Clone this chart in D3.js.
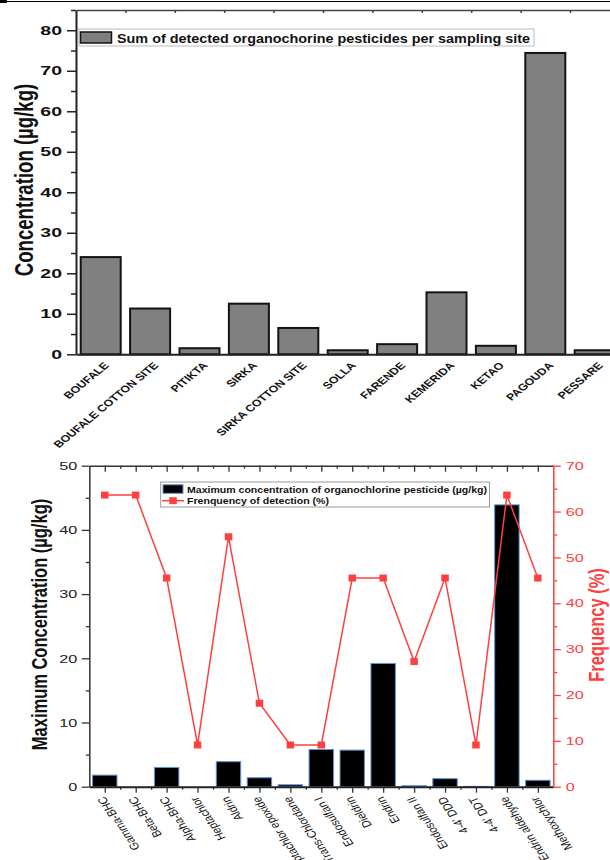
<!DOCTYPE html>
<html>
<head>
<meta charset="utf-8">
<script src="https://cdn.jsdelivr.net/npm/d3@7"></script>
<style>
  body { margin: 0; background: #fff; }
  svg { display: block; font-family: "Liberation Sans", Arial, sans-serif; }
</style>
</head>
<body>
<svg id="chart" width="610" height="860"></svg>
<script>
// top panel: sum per site
const sites = ["BOUFALE", "BOUFALE COTTON SITE", "PITIKTA", "SIRKA", "SIRKA COTTON SITE",
  "SOLLA", "FARENDE", "KEMERIDA", "KETAO", "PAGOUDA", "PESSARE"];
const siteSum = [24.0, 11.3, 1.5, 12.5, 6.5, 1.0, 2.5, 15.3, 2.1, 74.4, 1.0];
const sumTicks = [0, 10, 20, 30, 40, 50, 60, 70, 80];

// bottom panel: max concentration + frequency
const pesticides = ["Gamma-BHC", "Beta-BHC", "Alpha-BHC", "Heptachlor", "Aldrin",
  "Heptachlor epoxide", "Trans-Chlordane", "Endosulfan I", "Dieldrin", "Endrin",
  "Endosulfan II", "4-4' DDD", "4-4' DDT", "Endrin aldehyde", "Methoxychlor"];
const maxConc = [1.8, 0, 3.0, 0, 3.9, 1.4, 0.3, 5.8, 5.7, 19.2, 0.15, 1.25, 0.05, 43.9, 1.0];
const freq = [63.6, 63.6, 45.5, 9.1, 54.5, 18.2, 9.1, 9.1, 45.5, 45.5, 27.3, 45.5, 9.1, 63.6, 45.5];
const concTicks = [0, 10, 20, 30, 40, 50];
const freqTicks = [0, 10, 20, 30, 40, 50, 60, 70];

const RED = "#ff4040";
const svg = d3.select("#chart");

// the picture is stretched sideways, so text gets a horizontal scale
function stretchText(sel, sx) {
  sel.each(function () {
    const t = d3.select(this);
    const x = +t.attr("x") || 0;
    t.attr("x", 0).attr("transform", `translate(${x},0) scale(${sx},1)`);
  });
}

// page rule at the very top
svg.append("line").attr("x1", 0).attr("x2", 610).attr("y1", 1.5).attr("y2", 1.5)
  .attr("stroke", "#000").attr("stroke-width", 1.2);
svg.append("rect").attr("x", 0).attr("y", 0).attr("width", 7).attr("height", 3).attr("fill", "#000");

/// ---------- top chart ----------
const xTop = d3.scaleBand().domain(sites).range([76, 619.4]).paddingInner(0.19).paddingOuter(0.095);
const yTop = d3.scaleLinear().domain([0, 85]).range([354.3, 10]);
const idxTop = d3.scaleLinear().domain([0.5, 11.5]).range([76, 619.4]);

const gTop = svg.append("g");

gTop.selectAll("rect.bar").data(siteSum).enter().append("rect")
  .attr("class", "bar")
  .attr("x", (d, i) => xTop(sites[i]))
  .attr("width", xTop.bandwidth())
  .attr("y", d => yTop(d))
  .attr("height", d => yTop(0) - yTop(d))
  .attr("fill", "#808080")
  .attr("stroke", "#141414")
  .attr("stroke-width", 2);

// top frame line with ticks between categories
gTop.append("g").attr("transform", "translate(0,10)")
  .call(d3.axisTop(idxTop).tickValues(d3.range(1.5, 11, 1)).tickSize(-3).tickSizeOuter(0).tickFormat(""))
  .call(g => g.select(".domain").attr("stroke", "#444").attr("stroke-width", 1.5))
  .call(g => g.selectAll(".tick line").attr("stroke", "#444").attr("stroke-width", 1.5));

// bottom axis line
gTop.append("g").attr("transform", `translate(0,${yTop(0)})`)
  .call(d3.axisBottom(idxTop).tickValues([]).tickSizeOuter(0))
  .call(g => g.select(".domain").attr("stroke", "#222").attr("stroke-width", 2));

// left axis
gTop.append("g").attr("transform", "translate(76,0)")
  .call(d3.axisLeft(yTop).tickValues(d3.range(5, 90, 10)).tickSize(5).tickFormat(""))
  .call(g => g.select(".domain").remove())
  .call(g => g.selectAll(".tick line").attr("stroke", "#222").attr("stroke-width", 1.5));
gTop.append("g").attr("transform", "translate(76,0)")
  .call(d3.axisLeft(yTop).tickValues(sumTicks).tickSize(9).tickPadding(5).tickSizeOuter(0))
  .call(g => g.select(".domain").attr("stroke", "#222").attr("stroke-width", 2))
  .call(g => g.selectAll(".tick line").attr("stroke", "#222").attr("stroke-width", 1.5))
  .call(g => g.selectAll("text").attr("font-size", 13).attr("font-weight", "bold")
    .attr("font-family", "Liberation Sans, Arial, sans-serif").attr("fill", "#111"))
  .call(g => stretchText(g.selectAll("text"), 1.5));

// category labels
gTop.selectAll("text.site").data(sites).enter().append("text")
  .attr("class", "site")
  .attr("transform", d => `translate(${xTop(d) + xTop.bandwidth() / 2 + 9},366) scale(1.3,1) rotate(-47)`)
  .attr("text-anchor", "end")
  .attr("font-size", 9.6)
  .attr("font-weight", "bold")
  .attr("fill", "#111")
  .text(d => d);

// y title
gTop.append("text")
  .attr("transform", "translate(33.3,180) scale(1.35,1) rotate(-90)")
  .attr("text-anchor", "middle")
  .attr("font-size", 18.6)
  .attr("font-weight", "bold")
  .attr("fill", "#111")
  .text("Concentration (µg/kg)");

// legend
const lgTop = gTop.append("g");
lgTop.append("rect").attr("x", 79).attr("y", 29).attr("width", 455).attr("height", 17)
  .attr("fill", "#fff").attr("stroke", "#bbb").attr("stroke-width", 1);
lgTop.append("rect").attr("x", 80.5).attr("y", 32).attr("width", 31).attr("height", 11)
  .attr("fill", "#808080").attr("stroke", "#141414").attr("stroke-width", 1.5);
lgTop.append("text").attr("x", 117).attr("y", 42.5)
  .attr("font-size", 13).attr("font-weight", "bold").attr("fill", "#111")
  .attr("textLength", 413).attr("lengthAdjust", "spacingAndGlyphs")
  .text("Sum of detected organochorine pesticides per sampling site");

/// ---------- bottom chart ----------
const xBot = d3.scaleBand().domain(pesticides).range([89.3, 553.3]).paddingInner(0.21).paddingOuter(0.105);
const idxBot = d3.scaleLinear().domain([0.5, 15.5]).range([89.3, 553.3]);
const yConc = d3.scaleLinear().domain([0, 50]).range([786.7, 465.7]);
const yFreq = d3.scaleLinear().domain([0, 70]).range([786.7, 465.7]);

const gBot = svg.append("g");

gBot.selectAll("rect.bar").data(maxConc).enter().append("rect")
  .attr("class", "bar")
  .attr("x", (d, i) => xBot(pesticides[i]))
  .attr("width", xBot.bandwidth())
  .attr("y", d => yConc(d))
  .attr("height", d => yConc(0) - yConc(d))
  .attr("fill", "#000")
  .attr("stroke", "#5b95d8")
  .attr("stroke-width", 1);

// frame: top axis (ticks inward)
gBot.append("g").attr("transform", "translate(0,465.7)")
  .call(d3.axisTop(idxBot).tickValues(d3.range(1.5, 15, 1)).tickSize(-3).tickSizeOuter(0).tickFormat(""))
  .call(g => g.select(".domain").remove())
  .call(g => g.selectAll(".tick line").attr("stroke", "#333").attr("stroke-width", 1.3));
gBot.append("g").attr("transform", "translate(0,465.7)")
  .call(d3.axisTop(idxBot).tickValues(d3.range(1, 16, 1)).tickSize(-6).tickSizeOuter(0).tickFormat(""))
  .call(g => g.select(".domain").attr("stroke", "#333").attr("stroke-width", 1.5))
  .call(g => g.selectAll(".tick line").attr("stroke", "#333").attr("stroke-width", 1.3));

// bottom axis (ticks outward)
gBot.append("g").attr("transform", `translate(0,${yConc(0)})`)
  .call(d3.axisBottom(idxBot).tickValues(d3.range(1.5, 15, 1)).tickSize(3).tickSizeOuter(0).tickFormat(""))
  .call(g => g.select(".domain").remove())
  .call(g => g.selectAll(".tick line").attr("stroke", "#333").attr("stroke-width", 1.3));
gBot.append("g").attr("transform", `translate(0,${yConc(0)})`)
  .call(d3.axisBottom(idxBot).tickValues(d3.range(1, 16, 1)).tickSize(6).tickSizeOuter(0).tickFormat(""))
  .call(g => g.select(".domain").attr("stroke", "#222").attr("stroke-width", 2))
  .call(g => g.selectAll(".tick line").attr("stroke", "#333").attr("stroke-width", 1.3));

// left axis
gBot.append("g").attr("transform", "translate(89.3,0)")
  .call(d3.axisLeft(yConc).tickValues(d3.range(5, 50, 10)).tickSize(3.5).tickFormat(""))
  .call(g => g.select(".domain").remove())
  .call(g => g.selectAll(".tick line").attr("stroke", "#333").attr("stroke-width", 1.3));
gBot.append("g").attr("transform", "translate(89.3,0)")
  .call(d3.axisLeft(yConc).tickValues(concTicks).tickSize(7.6).tickPadding(4.5).tickSizeOuter(0))
  .call(g => g.select(".domain").attr("stroke", "#333").attr("stroke-width", 1.5))
  .call(g => g.selectAll(".tick line").attr("stroke", "#333").attr("stroke-width", 1.3))
  .call(g => g.selectAll("text").attr("font-size", 11.6)
    .attr("font-family", "Liberation Sans, Arial, sans-serif").attr("fill", "#222"))
  .call(g => stretchText(g.selectAll("text"), 1.4));

// right axis (frequency)
gBot.append("g").attr("transform", "translate(553.3,0)")
  .call(d3.axisRight(yFreq).tickValues(d3.range(5, 70, 10)).tickSize(4).tickFormat(""))
  .call(g => g.select(".domain").remove())
  .call(g => g.selectAll(".tick line").attr("stroke", RED).attr("stroke-width", 1.3));
gBot.append("g").attr("transform", "translate(553.3,0)")
  .call(d3.axisRight(yFreq).tickValues(freqTicks).tickSize(7.5).tickPadding(5).tickSizeOuter(0))
  .call(g => g.select(".domain").attr("stroke", RED).attr("stroke-width", 1.5))
  .call(g => g.selectAll(".tick line").attr("stroke", RED).attr("stroke-width", 1.3))
  .call(g => g.selectAll("text").attr("font-size", 11.6)
    .attr("font-family", "Liberation Sans, Arial, sans-serif").attr("fill", RED))
  .call(g => stretchText(g.selectAll("text"), 1.4));

// frequency line + markers
const freqLine = d3.line()
  .x((d, i) => xBot(pesticides[i]) + xBot.bandwidth() / 2)
  .y(d => yFreq(d));
gBot.append("path").datum(freq)
  .attr("d", freqLine)
  .attr("fill", "none")
  .attr("stroke", RED)
  .attr("stroke-width", 1.5);
gBot.selectAll("rect.mark").data(freq).enter().append("rect")
  .attr("class", "mark")
  .attr("x", (d, i) => xBot(pesticides[i]) + xBot.bandwidth() / 2 - 3.75)
  .attr("y", d => yFreq(d) - 3.5)
  .attr("width", 7.5)
  .attr("height", 7)
  .attr("fill", RED);

// category labels (upside-down, ending at the axis)
gBot.selectAll("text.pest").data(pesticides).enter().append("text")
  .attr("class", "pest")
  .attr("transform", d => `translate(${xBot(d) + xBot.bandwidth() / 2},796) scale(1.3,1) rotate(-117.6)`)
  .attr("text-anchor", "end")
  .attr("font-size", 9.8)
  .attr("fill", "#111")
  .text(d => d);

// axis titles
gBot.append("text")
  .attr("transform", "translate(47,624.5) scale(1.3,1) rotate(-90)")
  .attr("text-anchor", "middle")
  .attr("font-size", 16.5)
  .attr("font-weight", "bold")
  .attr("fill", "#111")
  .text("Maximum Concentration (µg/kg)");
gBot.append("text")
  .attr("transform", "translate(604,625) scale(1.3,1) rotate(-90)")
  .attr("text-anchor", "middle")
  .attr("font-size", 16.5)
  .attr("font-weight", "bold")
  .attr("fill", RED)
  .text("Frequency (%)");

// legend
const lgBot = gBot.append("g");
lgBot.append("rect").attr("x", 160.7).attr("y", 482).attr("width", 328.8).attr("height", 25)
  .attr("fill", "#fff").attr("stroke", "#999").attr("stroke-width", 1);
lgBot.append("rect").attr("x", 163).attr("y", 484.8).attr("width", 20).attr("height", 8.5)
  .attr("fill", "#000").attr("stroke", "#5b95d8").attr("stroke-width", 1);
lgBot.append("text").attr("x", 187).attr("y", 492.5)
  .attr("font-size", 9.5).attr("font-weight", "bold").attr("fill", "#111")
  .attr("textLength", 300).attr("lengthAdjust", "spacingAndGlyphs")
  .text("Maximum concentration of organochlorine pesticide (µg/kg)");
lgBot.append("line").attr("x1", 162).attr("x2", 184).attr("y1", 500.7).attr("y2", 500.7)
  .attr("stroke", RED).attr("stroke-width", 1.5);
lgBot.append("rect").attr("x", 169.3).attr("y", 497.2).attr("width", 7.5).attr("height", 7).attr("fill", RED);
lgBot.append("text").attr("x", 187).attr("y", 504)
  .attr("font-size", 9.5).attr("font-weight", "bold").attr("fill", "#111")
  .attr("textLength", 142).attr("lengthAdjust", "spacingAndGlyphs")
  .text("Frenquency of detection (%)");
</script>
</body>
</html>
